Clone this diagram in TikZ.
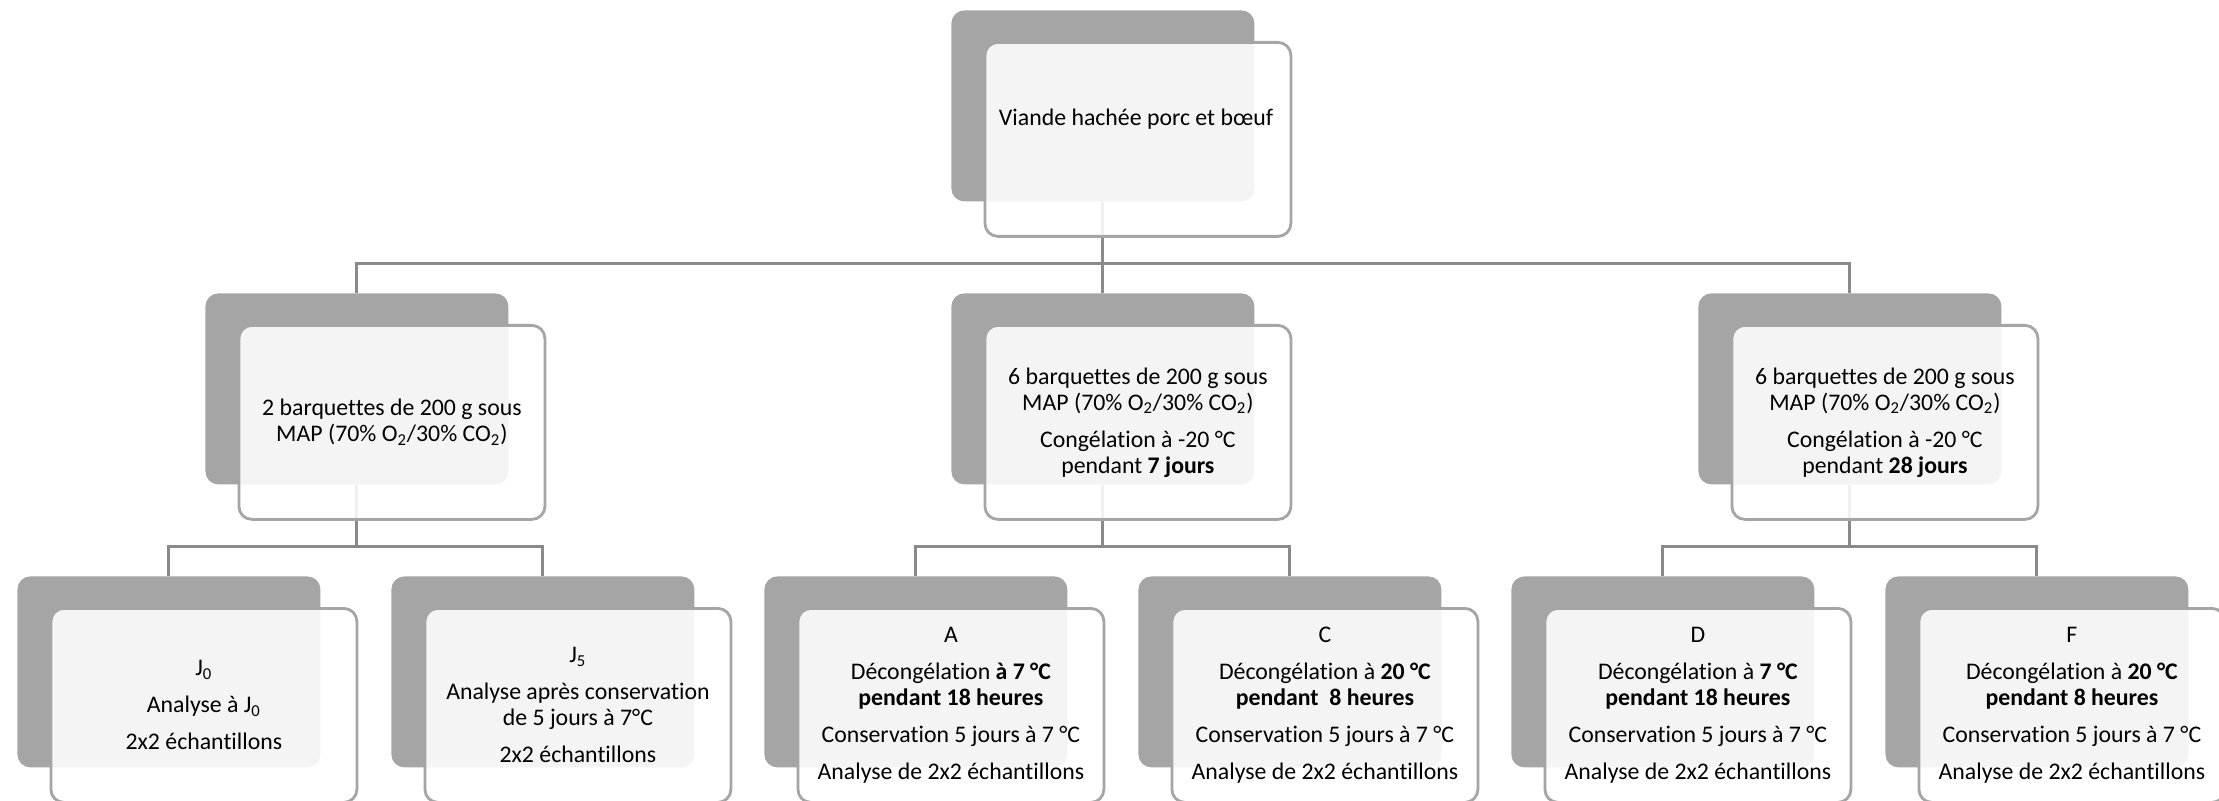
\documentclass[tikz,border=0pt]{standalone}
\usepackage{fontspec}
\setmainfont[Ligatures={NoCommon}]{Carlito}
\usepackage{tikz}
\usetikzlibrary{positioning}

\definecolor{cardgray}{HTML}{A5A5A5}
\definecolor{linkgray}{HTML}{8A8A8A}

\begin{document}
\begin{tikzpicture}[x=0.5pt, y=-0.5pt,
    back/.style={fill=cardgray, rounded corners=6.5pt, minimum width=151.5pt, minimum height=95.5pt, inner sep=0pt, anchor=north west},
    front/.style={draw=cardgray, line width=1.4pt, fill=white, fill opacity=0.88, text opacity=1, rounded corners=6.5pt,
        minimum width=153pt, minimum height=97pt, inner sep=0pt, anchor=north west, align=center,
        font=\fontsize{11.9pt}{13pt}\selectfont},
    txt/.style={align=center, inner sep=0pt, font=\fontsize{11.9pt}{13pt}\selectfont},
    link/.style={draw=linkgray, line width=1.5pt}]
    \useasboundingbox (0,0) rectangle (2219,801);

    % back cards
    \node[back] (topb) at (951,10) {};
    \node[back] (m1b) at (205,293) {};
    \node[back] (m2b) at (951,293) {};
    \node[back] (m3b) at (1698,293) {};
    \node[back] (l1b) at (17,576) {};
    \node[back] (l2b) at (391,576) {};
    \node[back] (l3b) at (764,576) {};
    \node[back] (l4b) at (1138,576) {};
    \node[back] (l5b) at (1511,576) {};
    \node[back] (l6b) at (1885,576) {};

    % links
    \draw[link] (topb.south) -- (m2b.north);
    \draw[link] (topb.south) -- ++(0,62) -| (m1b.north);
    \draw[link] (topb.south) -- ++(0,62) -| (m3b.north);
    \draw[link] (m1b.south) -- ++(0,62) -| (l1b.north);
    \draw[link] (m1b.south) -- ++(0,62) -| (l2b.north);
    \draw[link] (m2b.south) -- ++(0,62) -| (l3b.north);
    \draw[link] (m2b.south) -- ++(0,62) -| (l4b.north);
    \draw[link] (m3b.south) -- ++(0,62) -| (l5b.north);
    \draw[link] (m3b.south) -- ++(0,62) -| (l6b.north);

    % front cards
    \node[front] (topf) at (983.5,41) {};
    \node[txt] (toptxt) at (1136,119) {Viande hachée porc et bœuf};
    \node[front] (m1f) at (237.5,324) {2 barquettes de 200 g sous\\MAP (70\% O\textsubscript{2}/30\% CO\textsubscript{2})};
    \node[front] (m2f) at (983.5,324) {6 barquettes de 200 g sous\\MAP (70\% O\textsubscript{2}/30\% CO\textsubscript{2})\\[5.5pt]
        Congélation à -20 °C\\pendant \textbf{7 jours}};
    \node[front] (m3f) at (1730.5,324) {6 barquettes de 200 g sous\\MAP (70\% O\textsubscript{2}/30\% CO\textsubscript{2})\\[5.5pt]
        Congélation à -20 °C\\pendant \textbf{28 jours}};
    \node[front] (l1f) at (49.5,607) {J\textsubscript{0}\\[5.5pt]Analyse à J\textsubscript{0}\\[5.5pt]2x2 échantillons};
    \node[front] (l2f) at (423.5,607) {J\textsubscript{5}\\[5.5pt]Analyse après conservation\\de 5 jours à 7°C\\[5.5pt]2x2 échantillons};
    \node[front] (l3f) at (796.5,607) {A\\[5.5pt]Décongélation \textbf{à 7 °C}\\\textbf{pendant 18 heures}\\[5.5pt]
        Conservation 5 jours à 7 °C\\[5.5pt]Analyse de 2x2 échantillons};
    \node[front] (l4f) at (1170.5,607) {C\\[5.5pt]Décongélation à \textbf{20 °C}\\\textbf{pendant\ \ 8 heures}\\[5.5pt]
        Conservation 5 jours à 7 °C\\[5.5pt]Analyse de 2x2 échantillons};
    \node[front] (l5f) at (1543.5,607) {D\\[5.5pt]Décongélation à \textbf{7 °C}\\\textbf{pendant 18 heures}\\[5.5pt]
        Conservation 5 jours à 7 °C\\[5.5pt]Analyse de 2x2 échantillons};
    \node[front] (l6f) at (1917.5,607) {F\\[5.5pt]Décongélation à \textbf{20 °C}\\\textbf{pendant 8 heures}\\[5.5pt]
        Conservation 5 jours à 7 °C\\[5.5pt]Analyse de 2x2 échantillons};
\end{tikzpicture}
\end{document}
